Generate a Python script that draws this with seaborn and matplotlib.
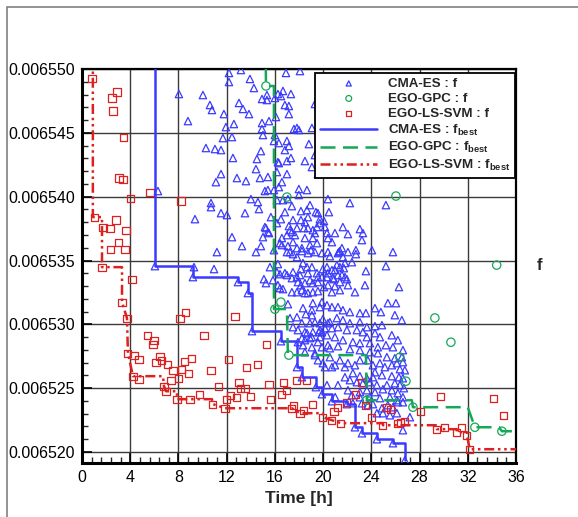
import numpy as np
import seaborn as sns
import matplotlib.pyplot as plt
from matplotlib import ticker
from matplotlib.patches import Rectangle

# values of f are given in units of 1e-6
# CMA-ES evaluations
cma_t = [8.04, 10.03, 10.61, 10.78, 11.77, 8.79, 11.69, 10.28, 11.03, 11.53,
         11.53, 11.11, 6.30, 10.70, 10.70, 11.53, 9.37, 11.19, 9.29, 10.95,
         12.19, 13.18, 12.19, 13.93, 14.26, 14.93, 15.34, 15.34, 13.02, 13.35,
         13.85, 14.93, 15.51, 14.93, 15.01, 12.60, 11.94, 12.44, 14.84, 12.52,
         14.51, 14.43, 12.85, 13.60, 14.76, 15.42, 15.42, 15.17, 14.01, 14.59,
         14.68, 13.52, 12.02, 15.67, 15.17, 15.42, 12.44, 13.27, 14.84, 14.43,
         15.26, 15.92, 16.00, 16.25, 16.09, 16.00, 15.92, 16.25, 16.17, 16.33,
         16.33, 16.33, 15.92, 16.92, 18.08, 16.50, 16.67, 17.33, 16.83, 17.16,
         17.16, 19.32, 17.83, 17.58, 17.99, 19.07, 17.00, 17.16, 16.83, 18.82,
         19.32, 18.49, 17.33, 17.00, 19.07, 19.57, 17.00, 16.58, 17.99, 18.66,
         17.99, 16.17, 16.67, 17.08, 17.41, 18.16, 18.66, 18.91, 19.40, 18.74,
         18.16, 16.83, 16.50, 17.50, 18.49, 19.73, 20.07, 19.49, 20.15, 17.16,
         17.25, 17.41, 17.66, 17.83, 18.41, 18.74, 19.32, 17.00, 16.58, 18.49,
         19.15, 20.40, 17.50, 17.83, 16.58, 17.08, 18.91, 18.99, 19.32, 19.90,
         17.50, 17.83, 18.24, 20.40, 20.48, 19.49, 16.42, 17.25, 18.24, 18.74,
         20.32, 15.51, 15.01, 19.57, 19.73, 16.17, 19.15, 22.22, 25.21, 21.64,
         23.05, 23.30, 22.06, 20.98, 23.22, 20.73, 21.56, 21.39, 21.23, 22.72,
         24.05, 25.79, 15.59, 16.17, 16.42, 16.83, 17.00, 17.41, 17.83, 18.33,
         18.66, 19.07, 18.16, 17.50, 18.08, 18.74, 19.49, 19.98, 20.32, 20.73,
         19.90, 20.32, 18.91, 19.15, 18.49, 18.16, 19.57, 20.07, 17.83, 18.24,
         18.74, 19.15, 19.57, 16.25, 16.42, 16.67, 15.26, 15.09, 17.08, 19.07,
         18.57, 18.24, 19.32, 19.73, 20.40, 19.90, 19.73, 20.32, 20.73, 19.07,
         20.15, 19.15, 19.65, 18.49, 20.73, 15.84, 20.56, 21.64, 22.39, 21.81,
         21.72, 21.14, 20.98, 25.21, 23.55, 20.40, 20.81, 21.56, 21.97, 21.39,
         22.06, 23.47, 26.29, 17.00, 20.40, 21.31, 22.06, 22.72, 16.25, 17.91,
         19.57, 20.90, 21.39, 21.23, 21.81, 22.64, 20.98, 21.39, 20.40, 18.49,
         17.41, 26.04, 25.37, 24.30, 23.55, 23.05, 22.22, 21.64, 21.23, 19.15,
         18.33, 17.25, 17.83, 18.91, 19.98, 20.56, 21.14, 21.64, 22.22, 23.05,
         23.63, 24.30, 24.88, 25.95, 26.53, 17.50, 17.91, 18.66, 19.90, 20.73,
         21.23, 21.97, 22.80, 23.30, 23.63, 24.30, 24.71, 25.70, 26.20, 26.62,
         25.79, 25.21, 24.54, 23.88, 23.05, 22.47, 21.64, 20.98, 20.32, 19.73,
         19.07, 18.49, 17.91, 18.33, 19.07, 19.90, 20.56, 21.23, 22.22, 23.05,
         23.88, 24.54, 25.29, 25.95, 26.53, 26.62, 19.32, 19.57, 19.98, 20.56,
         20.98, 21.39, 21.81, 22.06, 22.64, 23.05, 23.71, 24.13, 24.71, 25.12,
         25.70, 26.12, 26.37, 26.78, 24.30, 24.88, 25.70, 26.29, 26.62, 24.13,
         23.63, 23.05, 22.47, 21.81, 22.22, 20.32, 21.23, 22.80, 23.30, 23.88,
         24.46, 25.29, 25.95, 26.37, 26.70, 23.05, 23.63, 24.30, 24.96, 25.70,
         26.20, 26.62, 22.06, 22.39, 23.05, 23.88, 24.71, 25.54, 26.12, 24.13,
         24.88, 25.37, 25.79, 26.62, 24.96, 25.54, 26.12, 24.46, 26.62, 22.47,
         23.22, 23.71, 24.79, 27.20, 26.20, 19.73, 18.24, 18.91, 19.57, 20.40,
         19.32, 20.15, 20.73, 18.49, 21.00, 6.05, 9.20, 12.94, 13.76, 14.10,
         16.50, 17.83, 18.24, 19.40, 19.90, 20.73, 21.97, 22.64, 23.22, 24.46,
         25.79, 26.78]
cma_f = [6548.04, 6547.96, 6547.18, 6546.79, 6546.47, 6545.92, 6544.59, 6543.81, 6543.73, 6543.65,
         6541.77, 6541.14, 6540.44, 6539.50, 6539.18, 6538.71, 6538.24, 6535.66, 6534.48, 6534.33,
         6549.69, 6549.92, 6548.98, 6549.22, 6548.51, 6547.65, 6547.96, 6547.57, 6547.34, 6546.87,
         6546.47, 6545.77, 6545.92, 6545.30, 6544.83, 6545.69, 6545.45, 6544.67, 6543.57, 6543.03,
         6542.95, 6542.16, 6541.46, 6541.22, 6541.46, 6541.54, 6540.52, 6540.44, 6539.81, 6539.58,
         6539.03, 6538.71, 6538.56, 6538.40, 6537.62, 6537.23, 6536.83, 6536.13, 6536.13, 6535.66,
         6537.54, 6535.81, 6547.73, 6548.04, 6546.24, 6544.83, 6544.36, 6542.71, 6541.93, 6544.20,
         6542.63, 6540.75, 6540.52, 6549.69, 6549.84, 6547.88, 6548.28, 6548.04, 6547.18, 6547.10,
         6546.47, 6547.26, 6545.38, 6545.30, 6545.22, 6545.38, 6544.36, 6543.97, 6543.65, 6544.12,
         6543.26, 6542.79, 6543.03, 6542.79, 6542.32, 6541.77, 6541.77, 6541.14, 6540.60, 6540.52,
         6540.13, 6539.73, 6539.73, 6539.81, 6539.26, 6538.87, 6538.95, 6539.34, 6538.79, 6538.40,
         6538.17, 6538.79, 6538.24, 6538.17, 6538.01, 6538.24, 6538.09, 6537.62, 6537.62, 6537.70,
         6537.38, 6537.23, 6536.99, 6537.54, 6537.54, 6537.54, 6537.15, 6536.99, 6536.76, 6536.76,
         6536.76, 6536.76, 6536.44, 6535.97, 6536.21, 6536.13, 6536.21, 6535.81, 6535.66, 6535.58,
         6535.50, 6535.27, 6535.97, 6539.81, 6538.79, 6536.36, 6536.36, 6535.66, 6535.74, 6535.58,
         6537.15, 6537.15, 6536.83, 6538.71, 6537.93, 6537.93, 6537.38, 6539.50, 6539.34, 6537.62,
         6537.46, 6537.15, 6537.07, 6537.15, 6536.60, 6536.44, 6535.97, 6535.74, 6535.58, 6535.81,
         6535.81, 6535.66, 6534.48, 6534.09, 6533.93, 6534.01, 6533.86, 6533.62, 6533.70, 6534.80,
         6534.48, 6534.48, 6534.33, 6534.09, 6533.86, 6534.01, 6534.01, 6534.33, 6534.48, 6534.25,
         6533.70, 6533.70, 6533.46, 6533.23, 6533.23, 6533.07, 6533.31, 6532.92, 6532.52, 6532.68,
         6532.45, 6532.52, 6532.60, 6533.07, 6532.84, 6532.76, 6533.23, 6533.54, 6531.58, 6531.11,
         6530.80, 6530.09, 6530.17, 6530.09, 6530.09, 6531.74, 6531.35, 6531.50, 6531.35, 6530.72,
         6529.70, 6529.39, 6529.39, 6529.39, 6532.52, 6533.46, 6535.34, 6535.27, 6534.87, 6534.80,
         6534.40, 6534.64, 6534.25, 6534.56, 6534.17, 6534.01, 6533.62, 6533.86, 6533.54, 6533.31,
         6533.07, 6533.07, 6532.92, 6535.66, 6535.66, 6535.66, 6535.66, 6535.50, 6534.72, 6533.31,
         6533.70, 6533.54, 6534.48, 6533.86, 6533.70, 6532.52, 6532.99, 6532.68, 6533.07, 6532.45,
         6532.52, 6531.66, 6531.66, 6531.27, 6530.88, 6530.88, 6530.96, 6531.11, 6531.35, 6531.66,
         6531.27, 6530.49, 6530.56, 6530.09, 6530.41, 6530.17, 6530.49, 6530.33, 6530.09, 6530.17,
         6529.78, 6529.86, 6529.94, 6530.72, 6530.33, 6529.78, 6529.55, 6529.31, 6529.39, 6529.70,
         6529.78, 6529.55, 6529.55, 6529.39, 6529.00, 6529.31, 6529.00, 6529.15, 6528.76, 6527.98,
         6528.21, 6528.37, 6528.21, 6528.53, 6528.53, 6528.61, 6528.76, 6529.00, 6529.15, 6529.00,
         6529.00, 6528.76, 6528.61, 6528.37, 6528.21, 6528.21, 6528.13, 6528.29, 6528.06, 6527.98,
         6527.82, 6527.74, 6527.43, 6527.35, 6527.43, 6527.04, 6527.59, 6527.19, 6526.96, 6527.43,
         6526.80, 6527.19, 6526.65, 6526.96, 6526.80, 6527.19, 6527.19, 6526.80, 6526.96, 6526.65,
         6526.80, 6526.96, 6526.49, 6526.41, 6526.25, 6526.02, 6525.94, 6525.86, 6525.78, 6525.86,
         6525.78, 6525.94, 6526.18, 6525.86, 6525.63, 6525.24, 6525.24, 6525.47, 6525.39, 6525.47,
         6525.24, 6525.24, 6525.39, 6525.24, 6525.00, 6524.69, 6524.84, 6524.69, 6524.92, 6524.84,
         6524.61, 6524.29, 6524.84, 6524.45, 6524.29, 6524.29, 6524.22, 6524.29, 6524.06, 6523.75,
         6523.43, 6523.67, 6523.51, 6523.90, 6523.04, 6522.88, 6523.04, 6523.04, 6521.71, 6523.82,
         6523.82, 6523.67, 6530.96, 6522.73, 6523.90, 6529.55, 6528.92, 6528.92, 6528.61, 6528.37,
         6527.74, 6526.65, 6526.65, 6527.82, 6524.30, 6534.56, 6533.70, 6533.31, 6532.45, 6529.47,
         6528.68, 6526.65, 6525.86, 6525.08, 6524.53, 6523.98, 6523.75, 6521.94, 6521.47, 6521.00,
         6520.69, 6519.36]

# EGO-GPC evaluations
gpc_t = [15.26, 16.00, 16.50, 17.00, 17.16, 23.63, 26.04, 26.37, 26.87, 27.45,
         29.27, 30.60, 32.59, 34.40, 34.83]
gpc_f = [6548.67, 6531.19, 6531.74, 6539.97, 6527.59, 6524.06, 6540.05, 6527.43, 6525.55, 6523.51,
         6530.50, 6528.60, 6521.94, 6534.64, 6521.63]

# EGO-LS-SVM evaluations
svm_t = [0.83, 2.90, 2.49, 2.57, 3.48, 3.07, 3.40, 5.64, 4.06, 8.21,
         1.00, 2.82, 1.74, 2.32, 3.65, 2.99, 2.40, 3.57, 1.66, 4.15,
         3.32, 8.62, 8.13, 3.73, 12.69, 5.47, 5.97, 5.89, 10.12, 3.81,
         4.31, 4.73, 6.47, 6.63, 6.14, 9.12, 8.54, 7.13, 7.55, 8.29,
         8.87, 10.70, 12.19, 15.34, 14.59, 13.68, 4.23, 4.73, 7.38, 8.04,
         13.02, 11.36, 15.51, 6.80, 13.18, 13.52, 6.97, 9.78, 8.96, 7.88,
         12.35, 12.85, 14.01, 12.02, 15.67, 10.86, 11.86, 16.75, 17.83, 18.66,
         17.00, 16.58, 17.58, 17.41, 18.41, 19.15, 18.08, 19.98, 20.73, 20.90,
         21.23, 21.48, 21.97, 22.72, 23.22, 24.05, 24.96, 25.29, 25.62, 26.20,
         26.45, 26.78, 28.11, 29.77, 29.44, 30.10, 31.09, 31.51, 31.92, 32.17,
         34.16, 34.99, 23.55]
svm_f = [6549.22, 6548.20, 6547.73, 6546.71, 6544.67, 6541.46, 6541.38, 6540.36, 6539.89, 6539.66,
         6538.40, 6538.17, 6537.62, 6537.54, 6537.38, 6536.44, 6535.89, 6535.89, 6534.48, 6533.54,
         6531.74, 6530.96, 6530.49, 6530.49, 6530.64, 6529.15, 6528.76, 6528.45, 6529.15, 6527.74,
         6527.59, 6527.27, 6527.51, 6527.19, 6527.04, 6527.35, 6527.12, 6526.88, 6526.41, 6526.49,
         6526.18, 6526.41, 6527.27, 6528.45, 6526.88, 6526.65, 6525.94, 6525.71, 6525.63, 6525.78,
         6525.47, 6525.16, 6525.31, 6525.16, 6525.00, 6525.00, 6524.76, 6524.53, 6524.14, 6524.14,
         6524.45, 6524.29, 6524.37, 6524.14, 6524.14, 6523.75, 6523.43, 6525.47, 6525.63, 6525.63,
         6524.84, 6524.53, 6523.67, 6523.43, 6523.28, 6523.75, 6523.04, 6522.73, 6522.49, 6523.20,
         6523.51, 6522.26, 6523.90, 6524.53, 6525.47, 6522.73, 6522.10, 6523.51, 6523.35, 6522.26,
         6522.34, 6522.41, 6523.20, 6524.37, 6521.79, 6521.94, 6521.55, 6521.94, 6521.32, 6520.22,
         6524.22, 6522.88, 6523.67]

# best-so-far curves
cma_best_t = [6.05, 6.05, 9.20, 12.94, 13.76, 14.10, 16.50, 17.83, 18.24, 19.40,
              19.90, 20.73, 21.97, 22.64, 23.22, 24.46, 25.79, 26.78]
cma_best_f = [6556.0, 6534.56, 6533.70, 6533.31, 6532.45, 6529.47, 6528.68, 6526.65, 6525.86, 6525.08,
              6524.53, 6523.98, 6523.75, 6521.94, 6521.47, 6521.00, 6520.69, 6519.36]

gpc_best_t = [15.20, 15.26, 15.92, 15.92, 17.00, 17.08, 23.55, 23.63, 27.36, 27.45,
              32.00, 32.59, 34.60, 34.83, 35.66]
gpc_best_f = [6556.0, 6548.67, 6548.67, 6531.20, 6531.20, 6527.59, 6527.59, 6524.06, 6524.06, 6523.51,
              6523.51, 6521.94, 6521.94, 6521.63, 6521.63]

svm_best_t = [0.90, 0.90, 1.66, 1.66, 3.32, 3.32, 3.73, 3.81, 4.23, 6.72,
              6.80, 6.97, 7.88, 7.88, 10.78, 10.86, 11.86, 17.41, 18.08, 19.98,
              19.98, 20.73, 21.48, 24.96, 24.96, 29.44, 29.44, 31.09, 31.09, 31.92,
              31.92, 32.17, 36.00]
svm_best_f = [6556.0, 6538.40, 6538.40, 6534.48, 6534.48, 6531.74, 6530.49, 6527.74, 6525.94, 6525.94,
              6525.16, 6524.76, 6524.76, 6524.14, 6524.14, 6523.75, 6523.43, 6523.43, 6523.04, 6523.04,
              6522.73, 6522.49, 6522.26, 6522.26, 6522.10, 6522.10, 6521.79, 6521.79, 6521.55, 6521.55,
              6521.32, 6520.22, 6520.22]

x_ticks = [0, 4, 8, 12, 16, 20, 24, 28, 32, 36]
y_ticks = [6520, 6525, 6530, 6535, 6540, 6545, 6550]

scale = 1e-6
blue = '#3b3bff'
green = '#15a858'
red = '#dd2020'

sns.set_style("white")
plt.rcParams['font.family'] = ['Liberation Sans', 'DejaVu Sans']
plt.rcParams['mathtext.fontset'] = 'custom'
plt.rcParams['mathtext.rm'] = 'Liberation Sans'
plt.rcParams['mathtext.bf'] = 'Liberation Sans:bold'

fig = plt.figure(figsize=(5.78, 5.17), dpi=100)
ax = fig.add_axes([82 / 578, 1 - 463 / 517, 434 / 578, 394 / 517])

# scatter of every evaluation
sns.scatterplot(x=cma_t, y=np.array(cma_f) * scale, marker='^', s=28,
                facecolors='none', edgecolor=blue, linewidth=0.9,
                label='CMA-ES : f', ax=ax, zorder=3)
sns.scatterplot(x=gpc_t, y=np.array(gpc_f) * scale, marker='o', s=36,
                facecolors='none', edgecolor=green, linewidth=0.9,
                label='EGO-GPC : f', ax=ax, zorder=3)
sns.scatterplot(x=svm_t, y=np.array(svm_f) * scale, marker='s', s=26,
                facecolors='none', edgecolor=red, linewidth=0.9,
                label='EGO-LS-SVM : f', ax=ax, zorder=3)

# best so far
sns.lineplot(x=cma_best_t, y=np.array(cma_best_f) * scale, sort=False, estimator=None,
             drawstyle='steps-post', color=blue, lw=1.8,
             label=r'CMA-ES : f$_{\mathbf{best}}$', ax=ax, zorder=4)
sns.lineplot(x=gpc_best_t, y=np.array(gpc_best_f) * scale, sort=False, estimator=None,
             color=green, lw=1.8, dashes=False, ax=ax, zorder=4)
ax.lines[-1].set_dashes((6, 3))
ax.lines[-1].set_label(r'EGO-GPC : f$_{\mathbf{best}}$')
sns.lineplot(x=svm_best_t, y=np.array(svm_best_f) * scale, sort=False, estimator=None,
             color=red, lw=1.8, dashes=False, ax=ax, zorder=4)
ax.lines[-1].set_dashes((4, 1.5, 1, 1.5, 1, 1.5))
ax.lines[-1].set_label(r'EGO-LS-SVM : f$_{\mathbf{best}}$')

ax.set_xlim(0, 36)
ax.set_ylim(6519.14 * scale, 6550 * scale)
ax.set_xticks(x_ticks)
ax.set_yticks(np.array(y_ticks) * scale)
ax.xaxis.set_minor_locator(ticker.AutoMinorLocator(5))
ax.yaxis.set_minor_locator(ticker.AutoMinorLocator(5))
ax.yaxis.set_major_formatter(ticker.FormatStrFormatter('%.6f'))
ax.tick_params(axis='both', which='major', direction='in', length=7, width=1.2,
               labelsize=11.5, colors='black', bottom=True, left=True, pad=5)
ax.tick_params(axis='both', which='minor', direction='in', length=4, width=1,
               bottom=True, left=True)
ax.grid(True, which='major', color='#3a3a3a', lw=1)
ax.set_axisbelow(True)
for side in ['left', 'bottom']:
    ax.spines[side].set_linewidth(2.2)
for side in ['top', 'right']:
    ax.spines[side].set_linewidth(1.6)
for sp in ax.spines.values():
    sp.set_color('black')

ax.set_xlabel('Time [h]', fontsize=12.5, fontweight='bold', labelpad=4)
ax.set_ylabel('')
ax.text(1.055, 0.5, 'f', transform=ax.transAxes, fontsize=12, fontweight='bold',
        ha='center', va='center')

handles, labels = ax.get_legend_handles_labels()
leg = ax.legend(handles, labels, loc='upper right', bbox_to_anchor=(0.998, 0.99),
                borderaxespad=0, frameon=True, fancybox=False, edgecolor='black',
                framealpha=1, handlelength=4.3, handletextpad=0.8, labelspacing=0.2,
                borderpad=0.35, markerscale=0.7, prop={'weight': 'bold', 'size': 9.6})
leg.get_frame().set_linewidth(1.3)
leg.set_zorder(10)

# thin frame around the whole picture
fig.patches.append(Rectangle((7 / 578, -0.1), 1.2, 1.1 - 7 / 517, transform=fig.transFigure,
                             fill=False, edgecolor='#808080', lw=1.2))

fig.savefig('out.png', dpi=100)
